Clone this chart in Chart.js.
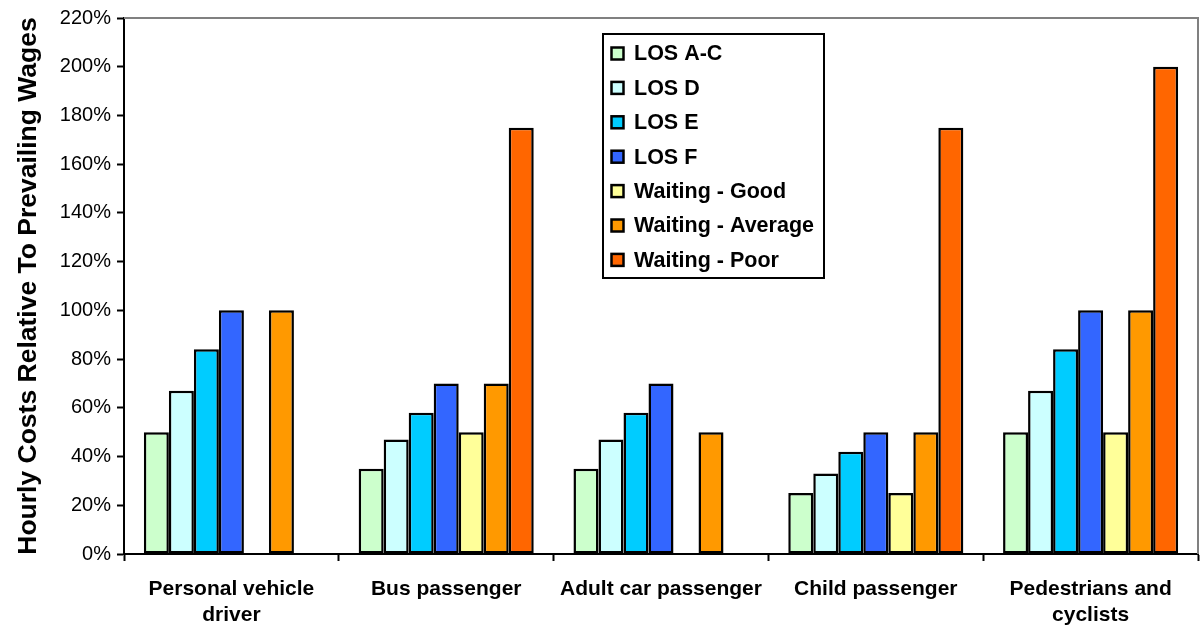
<!DOCTYPE html>
<html>
<head>
<meta charset="utf-8">
<script src="https://cdn.jsdelivr.net/npm/chart.js@4"></script>
<style>
html,body{margin:0;padding:0;background:#fff;}
#wrap{width:1201px;height:626px;position:relative;}
</style>
</head>
<body>
<div id="wrap"><canvas id="c" width="1201" height="626"></canvas></div>
<script>
const categories = [["Personal vehicle","driver"], "Bus passenger", "Adult car passenger", "Child passenger", ["Pedestrians and","cyclists"]];
const seriesNames = ["LOS A-C","LOS D","LOS E","LOS F","Waiting - Good","Waiting - Average","Waiting - Poor"];
const losAC = [50, 35, 35, 25, 50];
const losD = [67, 47, 47, 33, 67];
const losE = [84, 58, 58, 42, 84];
const losF = [100, 70, 70, 50, 100];
const waitGood = [null, 50, null, 25, 50];
const waitAvg = [100, 70, 50, 50, 100];
const waitPoor = [null, 175, null, 175, 200];
const yTicks = [0,20,40,60,80,100,120,140,160,180,200,220];
const colors = ["#CCFFCC","#CCFFFF","#00CCFF","#3366FF","#FFFF99","#FF9900","#FF6600"];
const seriesData = [losAC, losD, losE, losF, waitGood, waitAvg, waitPoor];

const datasets = seriesData.map((d,i)=>({
  label: seriesNames[i],
  data: d,
  backgroundColor: colors[i],
  borderColor: "#000",
  borderWidth: 2.5,
  borderSkipped: false,
  barPercentage: 1.0,
  categoryPercentage: 0.815
}));

const frameLegend = {
  id: 'frameLegend',
  afterDraw(chart){
    const ctx = chart.ctx, a = chart.chartArea;
    ctx.save();
    ctx.strokeStyle = '#808080';
    ctx.lineWidth = 2;
    ctx.beginPath();
    ctx.moveTo(a.left, a.top);
    ctx.lineTo(a.right, a.top);
    ctx.lineTo(a.right, a.bottom);
    ctx.stroke();
    const bx = 603, by = 34, bw = 221, bh = 244;
    ctx.fillStyle = '#fff';
    ctx.fillRect(bx, by, bw, bh);
    ctx.strokeStyle = '#000';
    ctx.lineWidth = 2;
    ctx.strokeRect(bx, by, bw, bh);
    ctx.font = 'bold 21.5px "Liberation Sans", Arial, sans-serif';
    ctx.textBaseline = 'middle';
    chart.data.datasets.forEach((ds, i) => {
      const cy = 53.5 + i * 34.4;
      ctx.fillStyle = ds.backgroundColor;
      ctx.fillRect(611.5, cy - 6, 12, 12);
      ctx.strokeStyle = '#000';
      ctx.lineWidth = 2.5;
      ctx.strokeRect(611.5, cy - 6, 12, 12);
      ctx.fillStyle = '#000';
      ctx.fillText(ds.label, 634, cy + 1);
    });
    ctx.restore();
  }
};

new Chart(document.getElementById('c'), {
  type: 'bar',
  data: { labels: categories, datasets },
  options: {
    responsive: false,
    animation: false,
    devicePixelRatio: 1,
    layout: { padding: { left: 0, top: 15, right: 3, bottom: 0 } },
    plugins: { legend: { display: false }, tooltip: { enabled: false } },
    scales: {
      x: {
        offset: true,
        grid: { display: true, offset: true, drawOnChartArea: false, drawTicks: true, tickLength: 7, tickColor: '#000', tickWidth: 2 },
        border: { display: true, color: '#000', width: 2 },
        ticks: { color: '#000', padding: 16, maxRotation: 0, autoSkip: false,
          font: { family: '"Liberation Sans", Arial, sans-serif', size: 21, weight: 'bold', lineHeight: 1.2 } },
        afterFit(s){ s.height = 72; }
      },
      y: {
        min: 0, max: 220,
        afterBuildTicks(s){ s.ticks = yTicks.map(v=>({value:v})); },
        grid: { display: true, drawOnChartArea: false, drawTicks: true, tickLength: 7, tickColor: '#000', tickWidth: 2 },
        border: { display: true, color: '#000', width: 2 },
        ticks: { color: '#000', padding: 6, callback: v => v + '%',
          font: { family: '"Liberation Sans", Arial, sans-serif', size: 20 } },
        title: { display: true, text: 'Hourly Costs Relative To Prevailing Wages', color: '#000', padding: { top: 13, bottom: 0 },
          font: { family: '"Liberation Sans", Arial, sans-serif', size: 26.5, weight: 'bold' } },
        afterFit(s){ s.width = 124; }
      }
    }
  },
  plugins: [frameLegend]
});
</script>
</body>
</html>
